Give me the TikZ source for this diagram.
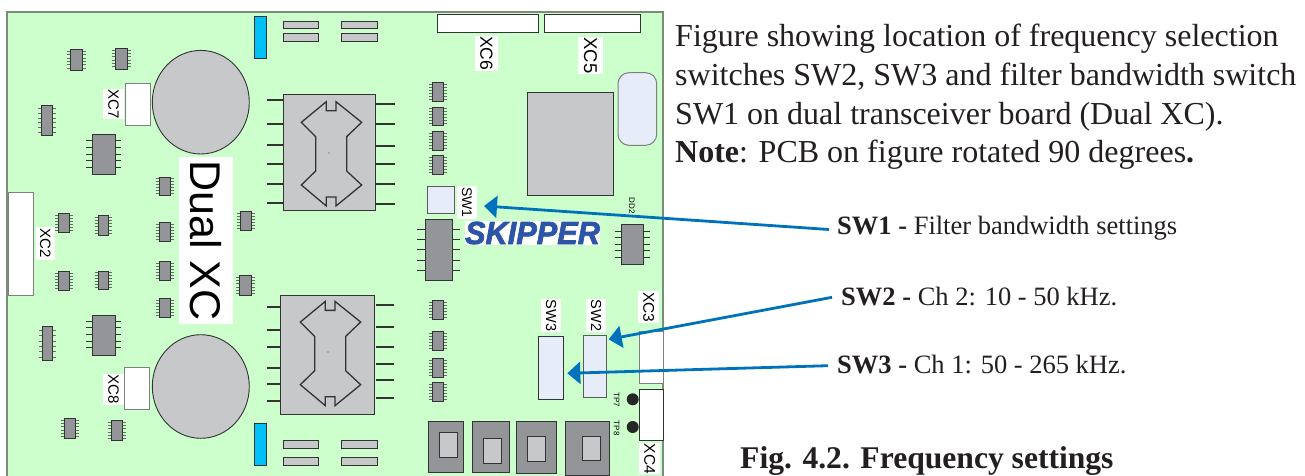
\documentclass[tikz,border=0pt]{standalone}
\usepackage{fontspec}
\setmainfont{Liberation Serif}
\newfontfamily\boardfont{Liberation Sans}
\newfontfamily\logofont{Liberation Sans}[BoldItalicFeatures={FakeBold=2.2}]
\usetikzlibrary{arrows.meta}
\definecolor{pcb}{HTML}{CCFFCC}
\definecolor{pcbedge}{HTML}{7C8C7C}
\definecolor{chipgray}{HTML}{939598}
\definecolor{lightgray}{HTML}{C7C8CA}
\definecolor{dkline}{HTML}{333333}
\definecolor{pinsoft}{HTML}{5F725F}
\definecolor{paleblue}{HTML}{E6ECF8}
\definecolor{cyanbar}{HTML}{00C0FA}
\definecolor{arrowblue}{HTML}{0072BC}
\definecolor{logoblue}{HTML}{2C55A8}
\definecolor{inkblack}{HTML}{231F20}
\tikzset{
  part/.style={draw=dkline,line width=.9pt},
  softpart/.style={draw=#1,line width=1pt},
  softpart/.default=gray,
  pin/.style={draw=dkline,line width=1pt},
  softpin/.style={draw=pinsoft,line width=.8pt},
  heavypin/.style={draw=dkline,line width=1.7pt},
  callout/.style={draw=arrowblue,line width=2.8pt,-{Triangle[length=13pt,width=22pt]},shorten >=0pt},
  txt/.style={anchor=base west,inner sep=0pt,text=inkblack,font=\fontsize{#1}{#1}\selectfont},
}
\newcommand{\sic}[4]{%
  \foreach \f in {.06,.22,.38,.54,.70,.86}{
    \draw[softpin] ({#1-3.5},{#2+(\f+.04)*(#4-#2)}) -- ({#3+3.5},{#2+(\f+.04)*(#4-#2)});
  }
  \path[part,fill=chipgray] (#1,#2) rectangle (#3,#4);
}
\newcommand{\bic}[8]{% x0 y0 x1 y1 pinleft pinright firsty stepy
  \foreach \n in {0,...,4}{
    \draw[pin] (#5,{#7+\n*#8}) -- (#6,{#7+\n*#8});
  }
  \path[part,fill=chipgray] (#1,#2) rectangle (#3,#4);
}
\newcommand{\xlab}[7][0]{% name is #2
  \path[fill=white] (#3,#4) rectangle (#5,#6);
  \node[rotate=-90,inner sep=0pt,text=black,font=\boardfont\fontsize{#1}{#1}\selectfont] (#2) at ({(#3+#5)/2},{(#4+#6)/2}) {#7};
}
\newcommand{\xfmr}{%
  \draw[dkline,line width=1.3pt,line join=miter]
    (199,50)--(199,77)--(228,77)--(228,50)--(305,112)--(260,155)--(260,258)--(305,300)--(228,363)--(228,336)--(199,336)--(199,363)--(124,300)--(167,258)--(167,155)--(124,112)--cycle;
  \fill[gray!70] (204,200) rectangle (210,206);
}
\begin{document}
\begin{tikzpicture}[x=1pt,y=-1pt]
\useasboundingbox (0,0) rectangle (1305,476);
\fill[white] (0,0) rectangle (1305,476);
\clip (0,0) rectangle (1305,476);
% board
\path[draw=pcbedge,line width=1.5pt,fill=pcb] (7,12) rectangle (663,490);
% small chips, left
\sic{70.5}{49.5}{82}{70}\sic{115}{48}{127}{69}\sic{41}{105.5}{52.5}{135.5}
\sic{159}{177}{170}{195.5}\sic{58.5}{213}{69.5}{232}\sic{98}{215.5}{108.5}{235}
\sic{159}{222.5}{170}{241.7}\sic{240.5}{211.5}{251.5}{230}\sic{159}{261.3}{170}{280.3}
\sic{159}{298}{170}{317}\sic{239.5}{275.3}{251.3}{295.3}\sic{58.5}{271}{69.5}{290.3}
\sic{98}{271}{108.5}{289.7}\sic{42.5}{326.7}{52.7}{360.7}\sic{64}{418.3}{75.7}{438.7}
\sic{111}{420.3}{122.7}{440.3}
% small chips, centre
\sic{432.3}{82.7}{443.3}{101.3}\sic{432.3}{107}{443.3}{125.7}\sic{432.3}{131.3}{443.3}{150}\sic{432.3}{155.7}{443.3}{174.3}
\sic{432.3}{300.7}{443.3}{319.3}\sic{432.3}{331.7}{443.3}{350.3}\sic{432.3}{358.7}{443.3}{377.3}\sic{432.3}{382.7}{443.3}{401.3}
% larger chips
\bic{92.5}{134}{115}{174}{86}{121}{140.7}{6.65}
\bic{92.5}{315}{115}{355}{86}{121}{321.3}{6.65}
\bic{425.5}{219}{452.5}{280.7}{417.3}{460}{229}{10.35}
\bic{621.3}{224.3}{643.7}{264.7}{614.7}{650.3}{231}{6.65}
% circles
\path[part,fill=lightgray] (200.8,102.2) ellipse [x radius=48.5,y radius=51.8];
\path[part,fill=lightgray] (200.8,386.5) ellipse [x radius=48.5,y radius=51.8];
% connectors with labels
\path[softpart,fill=white] (125.3,84) rectangle (150.3,125.7);
\path[softpart,fill=white] (124.3,367.7) rectangle (149.3,409.7);
\path[softpart,fill=white] (8.5,192) rectangle (33,295.3);
\path[part,fill=white] (437.7,14.3) rectangle (538.7,32.7);
\path[part,fill=white] (544,14.3) rectangle (640.3,32.7);
\path[softpart,fill=white] (639.3,331.7) rectangle (663,383.3);
\path[softpart=dkline,fill=white] (639.3,389) rectangle (663.3,440.3);
\xlab[15]{lxc7}{103}{89}{124}{119.5}{XC7}
\xlab[15]{lxc8}{103}{374}{124}{405}{XC8}
\xlab[15]{lxc2}{35.5}{227}{55}{259.7}{XC2}
\xlab[17.5]{lxc6}{475}{36}{497.7}{70.7}{XC6}
\xlab[18.5]{lxc5}{578}{37}{603}{73.7}{XC5}
\xlab[15.5]{lxc3}{638.3}{291}{659}{323.3}{XC3}
\xlab[15.5]{lxc4}{639.3}{443.3}{660}{474.3}{XC4}
\xlab[14.5]{lsw3}{541}{299.3}{561}{332}{SW3}
\xlab[14.5]{lsw2}{586}{299.3}{606}{332}{SW2}
\xlab[14]{lsw1}{457}{186}{477}{218.5}{SW1}
\xlab[43]{ldual}{179}{157}{233}{323.7}{Dual XC}
% cyan bars
\path[softpart=dkline,fill=cyanbar] (254.3,16.7) rectangle (266,58.7);
\path[softpart=dkline,fill=cyanbar] (254.3,423.3) rectangle (266,465);
% grey bars
\foreach \xa/\xb in {283.3/318.7,341.3/377.3}{
  \path[softpart=dkline,fill=lightgray] (\xa,21.3) rectangle (\xb,29);
  \path[softpart=dkline,fill=lightgray] (\xa,33.3) rectangle (\xb,41.3);
  \path[softpart=dkline,fill=lightgray] (\xa,440.3) rectangle (\xb,448);
  \path[softpart=dkline,fill=lightgray] (\xa,457.3) rectangle (\xb,465);
}
% transformers
\foreach \ya in {100,124.3,145.3,164.3,184.3,203.3}{\draw[heavypin] (266.7,\ya) -- (284,\ya);}
\foreach \ya in {104,124.3,146,164.3,184.3,204.3}{\draw[heavypin] (374.3,\ya) -- (395,\ya);}
\path[part,fill=lightgray] (283.3,94) rectangle (375,210.3);
\begin{scope}[shift={(260,85)},x=.3333pt,y=-.3333pt]\xfmr\end{scope}
\foreach \ya in {307.3,330.3,347.3,368,383.7,400.7}{\draw[heavypin] (266.7,\ya) -- (282,\ya);}
\foreach \ya in {305,327.3,347.3,364.3,380,398.3}{\draw[heavypin] (376,\ya) -- (394,\ya);}
\path[part,fill=lightgray] (280.7,295.3) rectangle (374.3,414.7);
\begin{scope}[shift={(259,284.7)},x=.3333pt,y=-.3333pt]\xfmr\end{scope}
% large square, capacitor
\path[part,fill=lightgray] (527.7,92) rectangle (613.7,195.3);
\path[softpart,fill=paleblue,rounded corners=11pt] (618,72.7) rectangle (656.7,145.3);
% switches
\path[softpart=dkline!80!white,fill=paleblue] (427.3,186) rectangle (454,213.3);
\path[softpart=dkline,fill=paleblue] (538.7,336.3) rectangle (563.7,399.3);
\path[softpart=dkline!80!white,fill=paleblue] (583,335.3) rectangle (606.7,397.3);
% test points
\fill[black!85] (632.7,399.3) circle [radius=6];
\fill[black!85] (632.7,427) circle [radius=6];
\node[rotate=-90,inner sep=0pt,font=\boardfont\fontsize{8}{8}\selectfont] (tp7) at (616.5,400) {TP7};
\node[rotate=-90,inner sep=0pt,font=\boardfont\fontsize{8}{8}\selectfont] (tp8) at (616.5,428.3) {TP8};
\node[rotate=-90,inner sep=0pt,font=\boardfont\fontsize{8}{8}\selectfont] (dd2) at (632,206) {DD2};
% bottom blocks
\foreach \a/\b/\c/\d/\e/\f/\g/\h in {428/421.7/463.3/472.7/439/432.7/457/457,472.3/421.7/509.3/472.7/483.3/438.3/501.3/463,516.3/421.7/556.7/473.3/527/436.7/545/461.3,565/421.7/609.3/475/582/436/600/460.3}{
  \path[softpart=dkline,fill=chipgray] (\a,\b) rectangle (\c,\d);
  \path[softpart=dkline,fill=lightgray] (\e,\f) rectangle (\g,\h);
}
% logo
\fill[white] (465,221) rectangle (600,244.7);
\node[inner sep=0pt,xscale=.96,text=logoblue,font=\logofont\bfseries\itshape\fontsize{32}{32}\selectfont] (logo) at (532.5,233) {SKIPPER};
% text
\node[txt=32] (p1) at (675,47) {Figure showing location of frequency selection};
\node[txt=32] (p2) at (675,85.7) {switches SW2, SW3 and filter bandwidth switch};
\node[txt=32] (p3) at (675,124.3) {SW1 on dual transceiver board (Dual XC).};
\node[txt=32] (p4) at (675,162.7) {\textbf{Note}: PCB on figure rotated 90 degrees\textbf{.}};
\node[txt=26.5] (t1) at (837,234) {\textbf{SW1 -} Filter bandwidth settings};
\node[txt=26.5] (t2) at (841,305) {\textbf{SW2 -} Ch 2: 10 - 50 kHz.};
\node[txt=26.5] (t3) at (837,373.3) {\textbf{SW3 -} Ch 1: 50 - 265 kHz.};
\node[txt=31.6] (cap) at (740,468.3) {\textbf{Fig. 4.2. Frequency settings}};
% callouts
\coordinate (a1) at (829,229.5);\coordinate (b1) at (484,206);
\coordinate (a2) at (832,297.3);\coordinate (b2) at (608.7,339.3);
\coordinate (a3) at (828,365.7);\coordinate (b3) at (567.3,373.3);
\draw[callout] (a1) -- (b1);
\draw[callout] (a2) -- (b2);
\draw[callout] (a3) -- (b3);
\end{tikzpicture}
\end{document}
